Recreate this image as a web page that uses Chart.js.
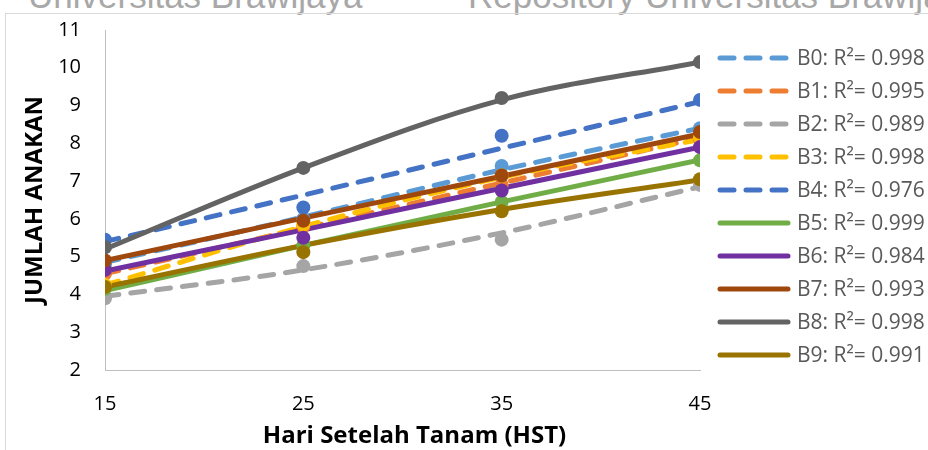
<!DOCTYPE html>
<html>
<head>
<meta charset="utf-8">
<script src="https://cdn.jsdelivr.net/npm/chart.js@4.4.1/dist/chart.umd.min.js"></script>
<style>
html,body{margin:0;padding:0;background:#fff;}
#wrap{position:relative;width:928px;height:450px;overflow:hidden;background:#fff;}
#c{position:absolute;left:0;top:0;}
.wm{position:absolute;top:-22px;font:35px/35px "Liberation Sans",sans-serif;color:#a8a8a8;white-space:nowrap;}
#hl{position:absolute;left:5px;top:13px;width:923px;height:1px;background:#d9d9d9;}
#vl{position:absolute;left:5px;top:13px;width:1px;height:437px;background:#d9d9d9;}
</style>
</head>
<body>
<div id="wrap">
<div class="wm" style="left:28px">Universitas Brawijaya</div>
<div class="wm" style="left:468px">Repository Universitas Brawijaya</div>
<div id="hl"></div><div id="vl"></div>
<canvas id="c" width="928" height="450"></canvas>
</div>
<script>
// ---- data ----
const days = [15, 25, 35, 45];
const seriesNames = ['B0','B1','B2','B3','B4','B5','B6','B7','B8','B9'];
const r2Values = ['0.998','0.995','0.989','0.998','0.976','0.999','0.984','0.993','0.998','0.991'];
const xTitle = 'Hari Setelah Tanam (HST)';
const yTitle = 'JUMLAH ANAKAN';

// observed points (JUMLAH ANAKAN at 15, 25, 35, 45 HST)
const B0 = [4.80, 6.00, 7.40, 8.40];
const B1 = [4.55, 5.80, 6.90, 8.10];
const B2 = [3.90, 4.75, 5.45, 6.90];
const B3 = [4.25, 5.85, 7.15, 8.15];
const B4 = [5.45, 6.30, 8.20, 9.15];
const B5 = [4.15, 5.30, 6.45, 7.55];
const B6 = [4.65, 5.50, 6.75, 7.90];
const B7 = [4.90, 5.95, 7.15, 8.30];
const B8 = [5.25, 7.35, 9.20, 10.15];
const B9 = [4.20, 5.12, 6.20, 7.05];

// trendline values at 15, 25, 35, 45 HST
const T0 = [4.85, 6.05, 7.30, 8.40];
const T1 = [4.55, 5.75, 6.95, 8.15];
const T2 = [3.95, 4.65, 5.63, 6.85];
const T3 = [4.25, 5.80, 7.10, 8.10];
const T4 = [5.40, 6.63, 7.87, 9.10];
const T5 = [4.10, 5.30, 6.45, 7.56];
const T6 = [4.62, 5.71, 6.81, 7.90];
const T7 = [4.90, 6.02, 7.13, 8.25];
const T8 = [5.20, 7.35, 9.15, 10.15];
const T9 = [4.20, 5.30, 6.25, 7.03];

const pointSets = [B0,B1,B2,B3,B4,B5,B6,B7,B8,B9];
const trendSets = [T0,T1,T2,T3,T4,T5,T6,T7,T8,T9];
const colors = ['#5B9BD5','#ED7D31','#A5A5A5','#FFC000','#4472C4','#70AD47','#7030A0','#9E480E','#636363','#997300'];
const dashed = [true,true,true,true,true,false,false,false,false,false];

const FONT = '"Open Sans", sans-serif';
const N = seriesNames.length;
const datasets = [];
trendSets.forEach((t, i) => {
  datasets.push({
    label: seriesNames[i] + ': R\u00B2= ' + r2Values[i],
    isTrend: true,
    data: days.map((d, j) => ({x: d, y: t[j]})),
    showLine: true,
    borderColor: colors[i],
    backgroundColor: colors[i],
    borderWidth: 5,
    borderDash: dashed[i] ? [14, 12] : [],
    borderCapStyle: 'round',
    cubicInterpolationMode: 'monotone',
    pointRadius: 0,
    pointHoverRadius: 0,
    order: 100 + (N - i)
  });
});
pointSets.forEach((p, i) => {
  datasets.push({
    label: seriesNames[i],
    isTrend: false,
    data: days.map((d, j) => ({x: d, y: p[j]})),
    showLine: false,
    backgroundColor: colors[i],
    borderColor: colors[i],
    borderWidth: 0,
    pointRadius: 7,
    pointHoverRadius: 7,
    order: N - i
  });
});

const PLOT = {left: 105, right: 700, top: 30, xAxisHeight: 80};

const legendPlugin = {
  id: 'trendLegend',
  afterDraw(chart) {
    const ctx = chart.ctx;
    ctx.save();
    let k = 0;
    chart.data.datasets.forEach(ds => {
      if (!ds.isTrend) return;
      const y = 58 + k * 33;
      ctx.strokeStyle = ds.borderColor;
      ctx.lineWidth = 5;
      ctx.lineCap = 'round';
      ctx.setLineDash(ds.borderDash);
      ctx.beginPath();
      ctx.moveTo(720, y);
      ctx.lineTo(788, y);
      ctx.stroke();
      ctx.setLineDash([]);
      ctx.fillStyle = '#595959';
      ctx.font = '21px ' + FONT;
      ctx.textBaseline = 'middle';
      ctx.textAlign = 'left';
      ctx.fillText(ds.label, 797, y + 1);
      k++;
    });
    // axis titles
    ctx.fillStyle = '#000';
    ctx.font = 'bold 24px ' + FONT;
    ctx.textAlign = 'center';
    ctx.textBaseline = 'middle';
    const a = chart.chartArea;
    ctx.fillText(xTitle, (a.left + a.right) / 2 + 12, 436);
    ctx.translate(35, (a.top + a.bottom) / 2);
    ctx.rotate(-Math.PI / 2);
    ctx.fillText(yTitle, 0, 0);
    ctx.restore();
  }
};

new Chart(document.getElementById('c'), {
  type: 'scatter',
  data: {datasets},
  options: {
    responsive: false,
    animation: false,
    devicePixelRatio: 1,
    layout: {padding: {left: 0, right: 928 - PLOT.right, top: PLOT.top, bottom: 0}},
    plugins: {legend: {display: false}, tooltip: {enabled: false}},
    scales: {
      x: {
        type: 'linear', min: 15, max: 45,
        afterFit(s) { s.height = PLOT.xAxisHeight; },
        afterBuildTicks(s) { s.ticks = days.map(v => ({value: v})); },
        ticks: {font: {family: FONT, size: 20}, color: '#000', padding: 22},
        grid: {display: false, drawTicks: false},
        border: {display: true, color: '#bfbfbf', width: 1}
      },
      y: {
        type: 'linear', min: 2, max: 11,
        afterFit(s) { s.width = PLOT.left; s.paddingTop = 0; s.paddingBottom = 0; },
        ticks: {stepSize: 1, font: {family: FONT, size: 20}, color: '#000', padding: 24},
        grid: {display: false, drawTicks: false},
        border: {display: true, color: '#bfbfbf', width: 1}
      }
    }
  },
  plugins: [legendPlugin]
});
</script>
</body>
</html>
